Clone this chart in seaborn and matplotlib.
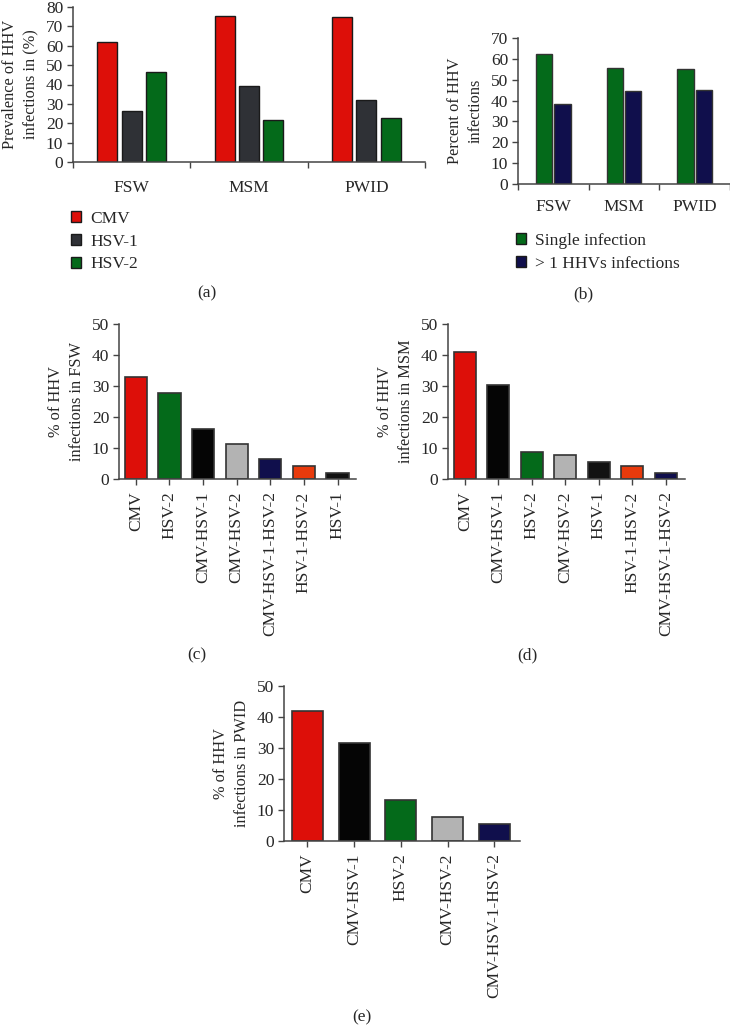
import seaborn as sns
import matplotlib.pyplot as plt
import pandas as pd
from matplotlib.patches import Patch

# data
groups = ["FSW", "MSM", "PWID"]
viruses = ["CMV", "HSV-1", "HSV-2"]
prev_cmv = [62.0, 75.4, 75.0]
prev_hsv1 = [26.5, 39.2, 31.8]
prev_hsv2 = [46.5, 21.9, 22.8]

infection_types = ["Single infection", "> 1 HHVs infections"]
single_inf = [62.2, 55.8, 55.3]
multi_inf = [38.2, 44.7, 44.9]

fsw_labels = ["CMV", "HSV-2", "CMV-HSV-1", "CMV-HSV-2", "CMV-HSV-1-HSV-2", "HSV-1-HSV-2", "HSV-1"]
fsw_values = [32.8, 27.6, 16.0, 11.4, 6.3, 4.3, 1.8]
msm_labels = ["CMV", "CMV-HSV-1", "HSV-2", "CMV-HSV-2", "HSV-1", "HSV-1-HSV-2", "CMV-HSV-1-HSV-2"]
msm_values = [40.9, 30.2, 8.7, 7.6, 5.5, 4.2, 2.0]
pwid_labels = ["CMV", "CMV-HSV-1", "HSV-2", "CMV-HSV-2", "CMV-HSV-1-HSV-2"]
pwid_values = [42.0, 31.7, 13.3, 7.9, 5.4]

# colours
RED = "#dd0f09"
GREEN = "#046a1a"
DGRAY = "#2f3136"
NAVY = "#100f4c"
BLACK = "#050505"
LGRAY = "#b3b3b3"
ORANGE = "#e83a0c"
combo_colors = {"CMV": RED, "HSV-2": GREEN, "CMV-HSV-1": BLACK, "CMV-HSV-2": LGRAY,
                "CMV-HSV-1-HSV-2": NAVY, "HSV-1-HSV-2": ORANGE, "HSV-1": "#121212"}

sns.set_style("white")
plt.rcParams["font.family"] = ["Liberation Serif", "DejaVu Serif"]
plt.rcParams["font.size"] = 12
plt.rcParams["axes.edgecolor"] = "#444444"
plt.rcParams["axes.linewidth"] = 1.1

fig = plt.figure(figsize=(7.3, 10.25), dpi=100)
W, H = 730, 1025
FS = 12.5


def add_ax(l, r, t, b):
    return fig.add_axes([l / W, 1 - b / H, (r - l) / W, (b - t) / H])


def style(ax, ymax, step, boundary_ticks=False, xpad=4):
    sns.despine(ax=ax)
    ax.set_ylim(0, ymax)
    ax.set_yticks(range(0, ymax + 1, step))
    ax.tick_params(axis="y", left=True, direction="out", length=4, width=1, color="#444444",
                   pad=3, labelsize=FS)
    ax.tick_params(axis="x", bottom=True, direction="out", length=4, width=1, color="#444444",
                   labelsize=FS, pad=xpad)
    ax.set_xlabel("")
    if boundary_ticks:
        n = len(ax.get_xticks())
        ax.set_xticks([i - 0.5 for i in range(n + 1)], minor=True)
        ax.tick_params(axis="x", which="major", length=0)
        ax.tick_params(axis="x", which="minor", bottom=True, direction="out", length=4,
                       width=1, color="#444444")


# (a)
df_a = pd.DataFrame({
    "group": groups * 3,
    "virus": [v for v in viruses for _ in groups],
    "value": prev_cmv + prev_hsv1 + prev_hsv2,
})
ax_a = add_ax(73, 425, 7, 162)
sns.barplot(data=df_a, x="group", y="value", hue="virus", palette=[RED, DGRAY, GREEN],
            saturation=1, width=0.62, gap=0.17, edgecolor="#1a1a1a", linewidth=1,
            ax=ax_a, legend=False)
ax_a.set_xlim(-0.5, 2.5)
style(ax_a, 80, 10, boundary_ticks=True, xpad=13)
ax_a.set_ylabel("Prevalence of HHV\ninfections in (%)", fontsize=11.8, labelpad=5, linespacing=1.45)
fig.legend(handles=[Patch(facecolor=c, edgecolor="#1a1a1a", label=v)
                    for c, v in zip([RED, DGRAY, GREEN], viruses)],
           loc="upper left", bbox_to_anchor=(71 / W, 1 - 211 / H), frameon=False,
           borderpad=0, borderaxespad=0,
           handlelength=0.6, handleheight=0.6, handletextpad=0.5, labelspacing=0.38, fontsize=FS)
fig.text(207 / W, 1 - 293 / H, "(a)", ha="center", va="center", fontsize=FS)

# (b)
df_b = pd.DataFrame({
    "group": groups * 2,
    "type": [t for t in infection_types for _ in groups],
    "value": single_inf + multi_inf,
})
ax_b = add_ax(518, 730, 38, 184)
sns.barplot(data=df_b, x="group", y="value", hue="type", palette=[GREEN, NAVY],
            saturation=1, width=0.52, gap=0.12, edgecolor="#333333", linewidth=1,
            ax=ax_b, legend=False)
ax_b.set_xlim(-0.5, 2.5)
style(ax_b, 70, 10, boundary_ticks=True, xpad=11)
ax_b.set_ylabel("Percent of HHV\ninfections", fontsize=11.8, labelpad=5, linespacing=1.45)
fig.legend(handles=[Patch(facecolor=c, edgecolor="#1a1a1a", label=t)
                    for c, t in zip([GREEN, NAVY], infection_types)],
           loc="upper left", bbox_to_anchor=(516 / W, 1 - 233 / H), frameon=False,
           borderpad=0, borderaxespad=0,
           handlelength=0.6, handleheight=0.6, handletextpad=0.5, labelspacing=0.38, fontsize=FS)
fig.text(583 / W, 1 - 294 / H, "(b)", ha="center", va="center", fontsize=FS)


def combo_panel(box, labels, values, xmax, ylabel, tag, tag_xy):
    ax = add_ax(*box)
    df = pd.DataFrame({"combo": labels, "value": values})
    sns.barplot(data=df, x="combo", y="value", hue="combo",
                palette=[combo_colors[l] for l in labels], saturation=1, width=0.66,
                edgecolor="#333333", linewidth=1.2, ax=ax, legend=False)
    ax.set_xlim(-0.5, xmax)
    style(ax, 50, 10)
    ax.set_ylabel(ylabel, fontsize=11.8, labelpad=5, linespacing=1.45)
    ax.tick_params(axis="x", labelrotation=90, pad=5)
    fig.text(tag_xy[0] / W, 1 - tag_xy[1] / H, tag, ha="center", va="center", fontsize=FS)


combo_panel((119, 356, 324, 479), fsw_labels, fsw_values, 6.55,
            "% of HHV\ninfections in FSW", "(c)", (197, 655))
combo_panel((448, 685, 324, 479), msm_labels, msm_values, 6.57,
            "% of HHV\ninfections in MSM", "(d)", (527, 655))
combo_panel((284, 520, 686, 841), pwid_labels, pwid_values, 4.55,
            "% of HHV\ninfections in PWID", "(e)", (362, 1017))

fig.savefig("out.png", dpi=100)
